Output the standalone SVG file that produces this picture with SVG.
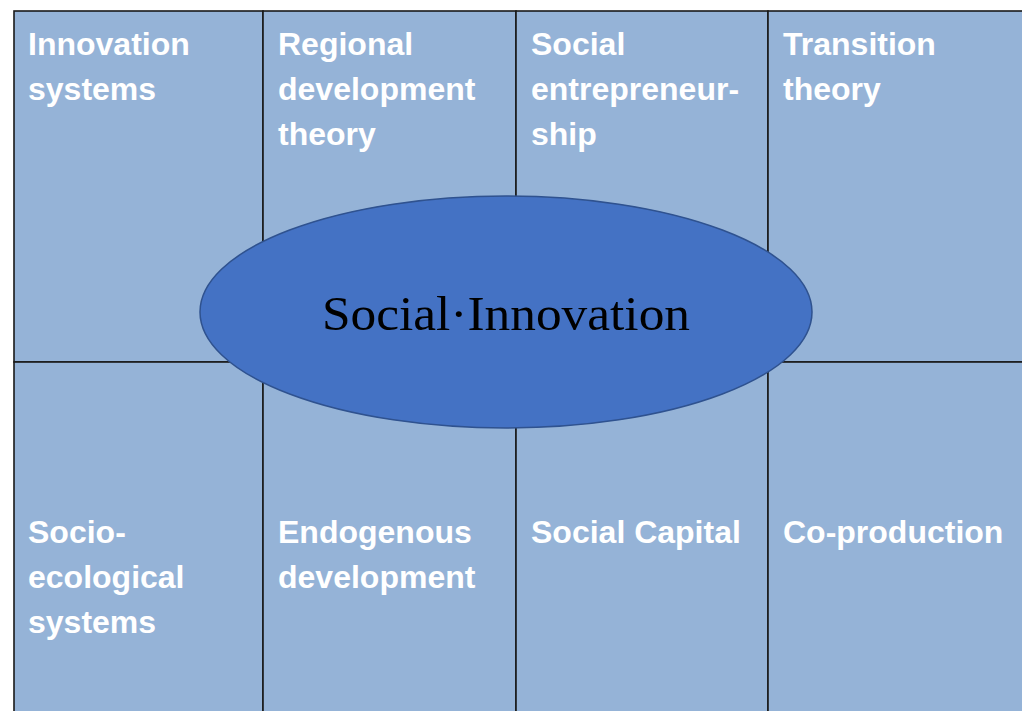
<svg xmlns="http://www.w3.org/2000/svg" width="1022" height="711" viewBox="0 0 1022 711">
<style>
.cell{fill:#95b3d7;stroke:#1a1a1a;stroke-width:1.6}
.lbl{font-family:"Liberation Sans",Arial,sans-serif;font-weight:bold;font-size:32px;fill:#ffffff}
.core{fill:#4472c4;stroke:#2f528f;stroke-width:1.5}
.coretxt{font-family:"Liberation Serif","Times New Roman",serif;font-size:49px;fill:#000000}
</style>
<rect width="1022" height="711" fill="#ffffff"/>
<g id="connectors"/>
<g id="cell-innovation-systems">
<rect class="cell" x="14" y="11" width="249" height="351"/>
<text class="lbl" x="28" y="55">Innovation</text>
<text class="lbl" x="28" y="100">systems</text>
</g>
<g id="cell-regional-development">
<rect class="cell" x="263" y="11" width="253" height="351"/>
<text class="lbl" x="278" y="55">Regional</text>
<text class="lbl" x="278" y="100">development</text>
<text class="lbl" x="278" y="145">theory</text>
</g>
<g id="cell-social-entrepreneurship">
<rect class="cell" x="516" y="11" width="252" height="351"/>
<text class="lbl" x="531" y="55">Social</text>
<text class="lbl" x="531" y="100">entrepreneur-</text>
<text class="lbl" x="531" y="145">ship</text>
</g>
<g id="cell-transition-theory">
<rect class="cell" x="768" y="11" width="260" height="351"/>
<text class="lbl" x="783" y="55">Transition</text>
<text class="lbl" x="783" y="100">theory</text>
</g>
<g id="cell-socio-ecological">
<rect class="cell" x="14" y="362" width="249" height="355"/>
<text class="lbl" x="28" y="543">Socio-</text>
<text class="lbl" x="28" y="588">ecological</text>
<text class="lbl" x="28" y="633">systems</text>
</g>
<g id="cell-endogenous-development">
<rect class="cell" x="263" y="362" width="253" height="355"/>
<text class="lbl" x="278" y="543">Endogenous</text>
<text class="lbl" x="278" y="588">development</text>
</g>
<g id="cell-social-capital">
<rect class="cell" x="516" y="362" width="252" height="355"/>
<text class="lbl" x="531" y="543">Social Capital</text>
</g>
<g id="cell-co-production">
<rect class="cell" x="768" y="362" width="260" height="355"/>
<text class="lbl" x="783" y="543">Co-production</text>
</g>
<g id="social-innovation">
<ellipse class="core" cx="506" cy="312" rx="306" ry="116"/>
<text class="coretxt" x="506" y="330" text-anchor="middle" textLength="368" lengthAdjust="spacingAndGlyphs">Social·Innovation</text>
</g>
</svg>
